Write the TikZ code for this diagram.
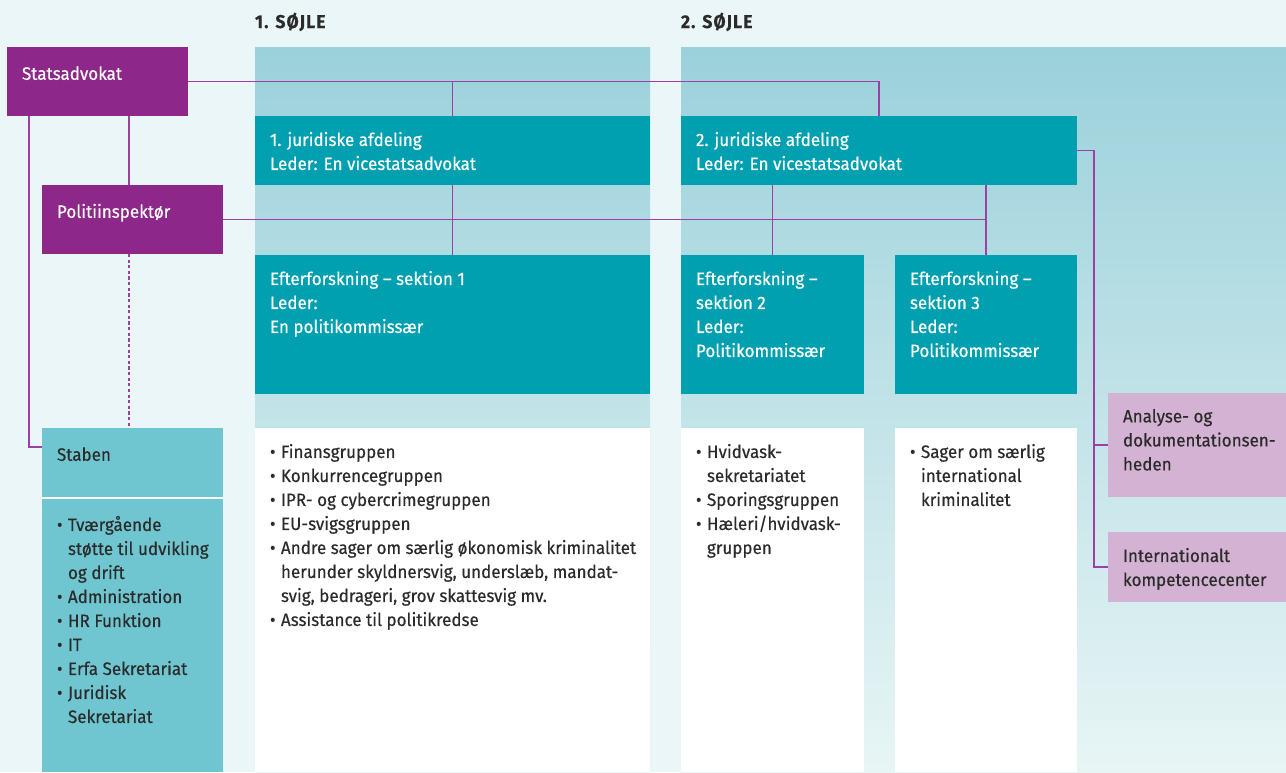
\documentclass[tikz,border=0pt]{standalone}
\usepackage{fontspec}
\setmainfont{Fira Sans}[FakeStretch=0.95,FakeBold=0.4]
\usetikzlibrary{positioning,calc}
\definecolor{bg}{HTML}{EAF6F8}
\definecolor{lilla}{HTML}{8E278A}
\definecolor{linje}{HTML}{9E3FA3}
\definecolor{petrol}{HTML}{00A0B0}
\definecolor{stab}{HTML}{6FC6D0}
\definecolor{rosa}{HTML}{D4B2D3}
\definecolor{soejletop}{HTML}{9BD1DB}
\definecolor{soejlebund}{HTML}{E8F5F5}
\definecolor{tekst}{HTML}{2B2B2B}
\newcommand{\bul}{\makebox[0.22cm][l]{\textbullet}}
\newcommand{\ind}{\hspace*{0.22cm}}
\tikzset{
  kasse/.style 2 args={anchor=north west,inner sep=0,outer sep=0,minimum width=#1*0.02cm,minimum height=#2*0.02cm},
  txt/.style={inner sep=0,outer sep=0,align=left,font=\fontsize{10.2}{13.66}\selectfont,text=tekst,execute at begin node=\strut},
  hvid/.style={txt,text=white},
  overskrift/.style={txt,font=\fontsize{10.5}{13.66}\selectfont\bfseries\addfontfeatures{LetterSpace=6},anchor=base west},
  conn/.style={draw=linje,line width=0.8pt},
}
\begin{document}
\begin{tikzpicture}[x=0.02cm,y=-0.02cm]
\fill[bg] (0,0) rectangle (1286,772);
\node[kasse={395}{725},top color=soejletop,bottom color=soejlebund] (col1) at (255,47) {};
\node[kasse={605}{725},top color=soejletop,bottom color=soejlebund] (col2) at (681,47) {};
\node[overskrift] (soejle1) at (255,28) {1. SØJLE};
\node[overskrift] (soejle2) at (681,28) {2. SØJLE};

\node[kasse={181}{69},fill=lilla] (statsadvokat) at (7,47) {};
\node[kasse={181}{69},fill=lilla] (politi) at (42,185) {};
\node[kasse={181}{344},fill=stab] (staben) at (42,428) {};
\node[kasse={395}{69},fill=petrol] (jur1) at (255,116) {};
\node[kasse={396}{69},fill=petrol] (jur2) at (681,116) {};
\node[kasse={395}{139},fill=petrol] (sek1) at (255,255) {};
\node[kasse={183}{139},fill=petrol] (sek2) at (681,255) {};
\node[kasse={182}{139},fill=petrol] (sek3) at (895,255) {};
\node[kasse={395}{344},fill=white] (grp1) at (255,428) {};
\node[kasse={183}{344},fill=white] (grp2) at (681,428) {};
\node[kasse={182}{344},fill=white] (grp3) at (895,428) {};
\node[kasse={178}{104},fill=rosa] (analyse) at (1108,393) {};
\node[kasse={178}{70},fill=rosa] (intl) at (1108,532) {};
\draw[white,line width=0.8pt] ($(staben.north west)+(0,70)$) -- ($(staben.north east)+(0,70)$);

\node[hvid,below right=0.32cm and 0.3cm of statsadvokat.north west] (statsadvokatT) {Statsadvokat};
\node[hvid,below right=0.32cm and 0.3cm of politi.north west] (politiT) {Politiinspektør};
\node[txt,below right=0.32cm and 0.3cm of staben.north west] (stabenT) {Staben};
\node[txt,below right=1.76cm and 0.3cm of staben.north west] (stabenL) {\bul Tværgående\\ \ind støtte til udvikling\\ \ind og drift\\ \bul Administration\\ \bul HR Funktion\\ \bul IT\\ \bul Erfa Sekretariat\\ \bul Juridisk\\ \ind Sekretariat};
\node[hvid,below right=0.32cm and 0.3cm of jur1.north west] (jur1T) {1. juridiske afdeling\\ Leder: En vicestatsadvokat};
\node[hvid,below right=0.32cm and 0.3cm of jur2.north west] (jur2T) {2. juridiske afdeling\\ Leder: En vicestatsadvokat};
\node[hvid,below right=0.32cm and 0.3cm of sek1.north west] (sek1T) {Efterforskning – sektion 1\\ Leder:\\ En politikommissær};
\node[hvid,below right=0.32cm and 0.3cm of sek2.north west] (sek2T) {Efterforskning –\\ sektion 2\\ Leder:\\ Politikommissær};
\node[hvid,below right=0.32cm and 0.3cm of sek3.north west] (sek3T) {Efterforskning –\\ sektion 3\\ Leder:\\ Politikommissær};
\node[txt,below right=0.32cm and 0.3cm of grp1.north west] (grp1T) {\bul Finansgruppen\\ \bul Konkurrencegruppen\\ \bul IPR- og cybercrimegruppen\\ \bul EU-svigsgruppen\\ \bul Andre sager om særlig økonomisk kriminalitet\\ \ind herunder skyldnersvig, underslæb, mandat-\\ \ind svig, bedrageri, grov skattesvig mv.\\ \bul Assistance til politikredse};
\node[txt,below right=0.32cm and 0.3cm of grp2.north west] (grp2T) {\bul Hvidvask-\\ \ind sekretariatet\\ \bul Sporingsgruppen\\ \bul Hæleri/hvidvask-\\ \ind gruppen};
\node[txt,below right=0.32cm and 0.3cm of grp3.north west] (grp3T) {\bul Sager om særlig\\ \ind international\\ \ind kriminalitet};
\node[txt,below right=0.32cm and 0.3cm of analyse.north west] (analyseT) {Analyse- og\\ dokumentationsen-\\ heden};
\node[txt,below right=0.32cm and 0.3cm of intl.north west] (intlT) {Internationalt\\ kompetencecenter};

\draw[conn] (statsadvokat.east) -| (jur2.north);
\draw[conn] (jur1.north |- statsadvokat.east) -- (jur1.north);
\draw[conn] (jur1.south) -- (sek1.north);
\draw[conn] ($(statsadvokat.south west)+(22,0)$) |- ($(staben.north west)+(0,19)$);
\draw[conn] ($(statsadvokat.south west)+(122,0)$) -- ($(politi.north west)+(87,0)$);
\draw[conn,dash pattern=on 1.8pt off 1.4pt] ($(politi.south west)+(87,0)$) -- ($(staben.north west)+(87,0)$);
\draw[conn] (politi.east) -| (sek3.north);
\draw[conn] (jur2.south -| sek3.north) -- (sek3.north);
\draw[conn] (jur2.south -| sek2.north) -- (sek2.north);
\draw[conn] (jur2.east) -- ++(17,0) |- (intl.west);
\draw[conn] (jur2.east) ++(17,0) |- (analyse.west);
\end{tikzpicture}
\end{document}
